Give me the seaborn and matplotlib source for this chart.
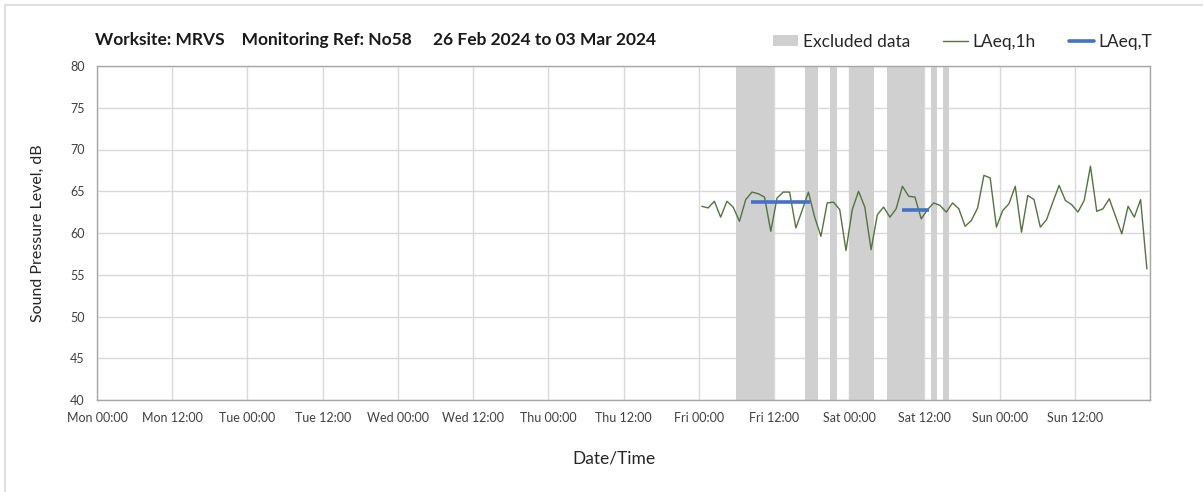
import pandas as pd
import matplotlib
matplotlib.use("Agg")
from matplotlib import pyplot as plt
from matplotlib.patches import Patch, Rectangle
from matplotlib.lines import Line2D
import seaborn as sns

# hourly LAeq,1h values, Fri 26/02 onward (hours counted from Mon 00:00)
laeq_1h = [63.2, 63.0, 63.8, 61.9, 63.8, 63.1, 61.4, 64.0, 64.9, 64.7, 64.3, 60.2,
           64.2, 64.9, 64.9, 60.6, 62.7, 64.9, 61.9, 59.6, 63.6, 63.7, 62.8, 57.9,
           62.8, 65.0, 63.1, 58.0, 62.2, 63.1, 61.9, 62.9, 65.6, 64.4, 64.3, 61.7,
           62.8, 63.6, 63.3, 62.5, 63.6, 62.9, 60.8, 61.5, 63.0, 66.9, 66.6, 60.7,
           62.7, 63.5, 65.6, 60.1, 64.5, 64.0, 60.7, 61.6, 63.7, 65.7, 63.9, 63.4,
           62.5, 63.9, 68.0, 62.6, 62.9, 64.1, 62.0, 59.9, 63.2, 61.9, 64.0, 55.7]
first_hour = 96.5

laeq_t_start = [104.4, 128.4]
laeq_t_end = [113.7, 132.7]
laeq_t_value = [63.7, 62.8]

excl_start = [102, 113, 117, 120, 126, 133, 135]
excl_end = [108, 115, 118, 124, 132, 134, 136]

tick_labels = ["Mon 00:00", "Mon 12:00", "Tue 00:00", "Tue 12:00", "Wed 00:00",
               "Wed 12:00", "Thu 00:00", "Thu 12:00", "Fri 00:00", "Fri 12:00",
               "Sat 00:00", "Sat 12:00", "Sun 00:00", "Sun 12:00"]

df = pd.DataFrame({"hour": [first_hour + i for i in range(len(laeq_1h))],
                   "level": laeq_1h})

sns.set_style("white")
plt.rcParams['font.family'] = ['Lato', 'DejaVu Sans']

green = "#55733f"
blue = "#4472c4"
grey = "#d0d0d0"
frame = "#a6a6a6"

fig = plt.figure(figsize=(12.03, 4.92), dpi=100)
# outer chart border (only top and left edges show in the crop)
fig.add_artist(Rectangle((5 / 1203, -0.5), 1.2, 1.5 - 5 / 492, transform=fig.transFigure,
                         fill=False, edgecolor="#d9d9d9", lw=1.2))
ax = fig.add_axes([97 / 1203, 1 - 400 / 492, (1150 - 97) / 1203, (400 - 66) / 492])

for s, e in zip(excl_start, excl_end):
    ax.axvspan(s, e, color=grey, lw=0, zorder=1)

sns.lineplot(data=df, x="hour", y="level", ax=ax, color=green, lw=1.0, zorder=3)

for s, e, v in zip(laeq_t_start, laeq_t_end, laeq_t_value):
    ax.plot([s, e], [v, v], color=blue, lw=2.6, solid_capstyle="butt", zorder=4)

ax.set_xlim(0, 168)
ax.set_ylim(40, 80)
ax.set_xticks(range(0, 169, 12))
ax.set_xticklabels(tick_labels + [""], fontsize=9, color="#404040")
ax.set_yticks(range(40, 81, 5))
ax.set_yticklabels([str(v) for v in range(40, 81, 5)], fontsize=9, color="#404040")
ax.grid(True, color="#d9d9d9", lw=1, zorder=0)
ax.set_axisbelow(True)
for side in ["top", "right", "left", "bottom"]:
    ax.spines[side].set_color(frame)
    ax.spines[side].set_linewidth(1)
ax.tick_params(axis="both", direction="out", length=5, color=frame, width=1)
ax.tick_params(axis="x", pad=4)
ax.tick_params(axis="y", pad=4)

ax.set_xlabel("Date/Time", fontsize=12.5, color="#262626")
ax.xaxis.set_label_coords((614 - 97) / (1150 - 97), -(458 - 400) / (400 - 66))
ax.xaxis.label.set_va("center")
ax.set_ylabel("Sound Pressure Level, dB", fontsize=11.5, color="#262626", labelpad=18)

fig.text(95 / 1203, 1 - 40 / 492,
         "Worksite: MRVS    Monitoring Ref: No58     26 Feb 2024 to 03 Mar 2024",
         fontsize=12.5, fontweight="bold", color="#1a1a1a", va="center")

handles = [Patch(facecolor=grey, edgecolor="none", label="Excluded data"),
           Line2D([], [], color=green, lw=1, label="LAeq,1h"),
           Line2D([], [], color=blue, lw=2.6, label="LAeq,T")]
fig.legend(handles=handles, loc="center right", bbox_to_anchor=(1164 / 1203, 1 - 42 / 492),
           ncol=3, frameon=False, fontsize=12.5, handlelength=1.45, handleheight=0.6,
           columnspacing=1.9, handletextpad=0.25, labelcolor="#262626", borderpad=0.2)

fig.savefig("out.png", dpi=100)
